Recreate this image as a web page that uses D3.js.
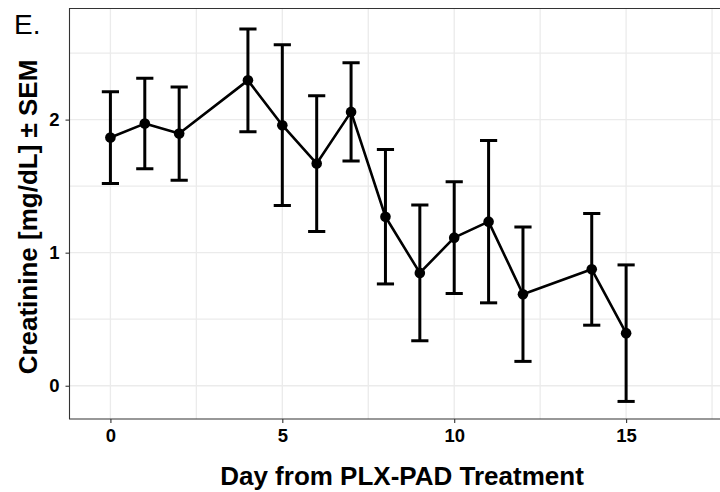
<!DOCTYPE html>
<html>
<head>
<meta charset="utf-8">
<script src="https://cdn.jsdelivr.net/npm/d3@7"></script>
<style>
  html, body { margin: 0; padding: 0; background: #fff; }
  svg { display: block; font-family: "Liberation Sans", Arial, Helvetica, sans-serif; }
</style>
</head>
<body>
<svg id="chart" width="720" height="492"></svg>
<script>
// Serum creatinine after PLX-PAD treatment (mean ± SEM)
const days = [0, 1, 2, 4, 5, 6, 7, 8, 9, 10, 11, 12, 14, 15];
const creatinine = [1.865, 1.97, 1.895, 2.295, 1.958, 1.67, 2.058, 1.27, 0.848, 1.113, 1.233, 0.688, 0.875, 0.395];
const sem = [0.345, 0.34, 0.35, 0.386, 0.604, 0.51, 0.37, 0.505, 0.51, 0.42, 0.61, 0.505, 0.42, 0.513];
const xTicks = [0, 5, 10, 15];
const xMinor = [2.5, 7.5, 12.5, 17.5];
const yTicks = [0, 1, 2];
const yMinor = [0.5, 1.5, 2.5];

const svg = d3.select("#chart");
const panel = { left: 69.5, top: 8.5, bottom: 419, right: 760 };

const x = d3.scaleLinear().domain([-1.19, 18.9]).range([panel.left, panel.left + 20.09 * 34.38]);
const y = d3.scaleLinear().domain([-0.25, 2.835]).range([panel.bottom, panel.top]);

svg.append("defs").append("clipPath").attr("id", "panel-clip")
  .append("rect")
  .attr("x", panel.left).attr("y", panel.top)
  .attr("width", panel.right - panel.left).attr("height", panel.bottom - panel.top);

const g = svg.append("g").attr("clip-path", "url(#panel-clip)");

// grid lines
g.selectAll("line.ygrid").data(yTicks.concat(yMinor)).join("line")
  .attr("x1", panel.left).attr("x2", panel.right)
  .attr("y1", d => y(d)).attr("y2", d => y(d))
  .attr("stroke", "#ebebeb").attr("stroke-width", 1.3);
g.selectAll("line.xgrid").data(xTicks.concat(xMinor)).join("line")
  .attr("y1", panel.top).attr("y2", panel.bottom)
  .attr("x1", d => x(d)).attr("x2", d => x(d))
  .attr("stroke", "#ebebeb").attr("stroke-width", 1.3);

const data = days.map((d, i) => ({ day: d, mean: creatinine[i], sem: sem[i] }));

// error bars
const capHalf = 0.25;
const eb = g.append("g").attr("stroke", "#000").attr("stroke-width", 3).attr("fill", "none");
data.forEach(d => {
  eb.append("line")
    .attr("x1", x(d.day)).attr("x2", x(d.day))
    .attr("y1", y(d.mean - d.sem)).attr("y2", y(d.mean + d.sem));
  [d.mean - d.sem, d.mean + d.sem].forEach(v => {
    eb.append("line")
      .attr("x1", x(d.day - capHalf)).attr("x2", x(d.day + capHalf))
      .attr("y1", y(v)).attr("y2", y(v));
  });
});

// mean line
g.append("path").datum(data)
  .attr("fill", "none").attr("stroke", "#000").attr("stroke-width", 2.6)
  .attr("stroke-linejoin", "round")
  .attr("d", d3.line().x(d => x(d.day)).y(d => y(d.mean)));

// points
g.selectAll("circle").data(data).join("circle")
  .attr("cx", d => x(d.day)).attr("cy", d => y(d.mean)).attr("r", 5.3)
  .attr("fill", "#000");

// panel border
svg.append("path")
  .attr("d", `M${panel.right},${panel.top}H${panel.left}V${panel.bottom}H${panel.right}`)
  .attr("fill", "none").attr("stroke", "#333").attr("stroke-width", 1.1);

// axes
const xAxis = svg.append("g").attr("transform", `translate(0,${panel.bottom})`)
  .call(d3.axisBottom(x).tickValues(xTicks).tickSize(4).tickPadding(6).tickFormat(d3.format("d")));
xAxis.select(".domain").remove();
xAxis.selectAll(".tick line").attr("stroke", "#333").attr("stroke-width", 1.1);
xAxis.selectAll(".tick text").attr("fill", "#000").attr("font-size", 18.5).attr("font-weight", "bold")
  .attr("font-family", "'Liberation Sans', Arial, sans-serif");

const yAxis = svg.append("g").attr("transform", `translate(${panel.left},0)`)
  .call(d3.axisLeft(y).tickValues(yTicks).tickSize(4).tickPadding(6).tickFormat(d3.format("d")));
yAxis.select(".domain").remove();
yAxis.selectAll(".tick line").attr("stroke", "#333").attr("stroke-width", 1.1);
yAxis.selectAll(".tick text").attr("fill", "#000").attr("font-size", 18.5).attr("font-weight", "bold")
  .attr("font-family", "'Liberation Sans', Arial, sans-serif");

// titles
svg.append("text")
  .attr("x", 402).attr("y", 485)
  .attr("text-anchor", "middle").attr("font-size", 26).attr("font-weight", "bold")
  .text("Day from PLX-PAD Treatment");

svg.append("text")
  .attr("transform", "translate(37,217) rotate(-90)")
  .attr("text-anchor", "middle").attr("font-size", 26).attr("font-weight", "bold")
  .text("Creatinine [mg/dL] ± SEM");

svg.append("text")
  .attr("x", 14).attr("y", 34)
  .attr("font-size", 28)
  .text("E.");
</script>
</body>
</html>
